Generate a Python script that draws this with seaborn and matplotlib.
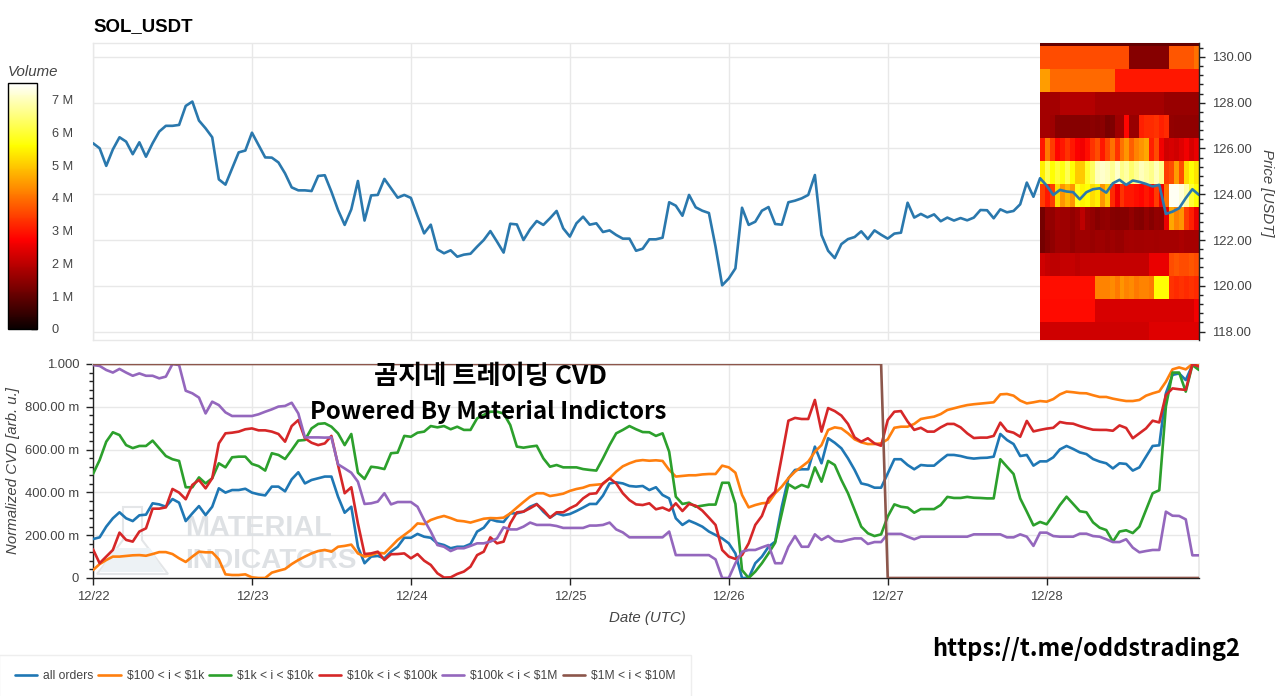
import numpy as np
import pandas as pd
import matplotlib
matplotlib.use("Agg")
import matplotlib.pyplot as plt
from matplotlib.ticker import MultipleLocator, FuncFormatter
from matplotlib.patches import Polygon
import seaborn as sns

W, H = 1280, 696

symbol = "SOL_USDT"
series_names = ["all orders", "$100 < i < $1k", "$1k < i < $10k", "$10k < i < $100k", "$100k < i < $1M", "$1M < i < $10M"]
series_colors = ["#1f77b4", "#ff7f0e", "#2ca02c", "#d62728", "#9467bd", "#8c564b"]
date_labels = ["12/22", "12/23", "12/24", "12/25", "12/26", "12/27", "12/28"]
price_ticks = [118, 120, 122, 124, 126, 128, 130]
price_labels = ["118.00", "120.00", "122.00", "124.00", "126.00", "128.00", "130.00"]
cvd_ticks = [0, 0.2, 0.4, 0.6, 0.8, 1.0]
cvd_labels = ["0", "200.00 m", "400.00 m", "600.00 m", "800.00 m", "1.000"]

price = [
 126.23,126.01,125.24,125.96,126.49,126.30,125.75,126.27,125.64,126.23,126.74,126.99,126.99,127.03,127.86,128.05,127.22,126.88,126.49,124.65,124.42,125.13,125.83,125.91,
 126.69,126.15,125.61,125.60,125.39,124.91,124.30,124.17,124.17,124.14,124.80,124.83,124.11,123.31,122.66,123.34,124.58,122.85,123.95,123.97,124.67,124.26,123.85,123.97,
 123.84,123.05,122.29,122.67,121.59,121.42,121.55,121.27,121.36,121.40,121.71,122.00,122.39,121.93,121.45,122.71,122.68,122.00,122.47,122.83,122.66,122.95,123.27,122.51,
 122.15,122.73,123.02,122.67,122.73,122.35,122.42,122.22,122.06,122.06,121.53,121.62,122.03,122.03,122.10,123.65,123.50,123.06,123.97,123.43,123.28,123.18,121.71,120.02,
 120.32,120.76,123.41,122.66,122.80,123.28,123.44,122.70,122.67,123.65,123.72,123.82,123.97,124.84,122.22,121.53,121.21,121.82,122.04,122.13,122.38,122.04,122.42,122.23,
 122.06,122.28,122.32,123.63,122.98,123.14,122.99,123.12,122.82,122.98,122.85,122.96,122.86,122.98,123.31,123.30,122.95,123.34,123.21,123.27,123.56,124.51,123.89,124.70,
 124.38,123.97,124.19,124.12,124.09,123.78,124.09,124.22,124.26,124.07,124.48,124.63,124.41,124.60,124.54,124.45,124.34,124.41,123.14,123.24,123.39,123.83,124.22,123.97]

cvd_all = [
 182,190,240,279,307,279,266,293,296,349,344,333,369,352,266,302,336,294,333,419,399,411,411,417,399,391,386,427,427,405,461,494,442,458,466,474,474,380,305,333,146,69,100,103,92,123,146,188,188,206,
 193,188,162,154,139,146,146,159,217,235,274,265,262,302,302,310,333,346,310,282,302,293,299,313,329,346,346,385,442,447,442,430,427,430,411,424,388,372,279,248,268,255,240,217,201,185,162,115,0,0,69,100,146,170,333,466,505,508,508,614,536,653,632,606,
 559,505,442,435,422,422,489,555,555,528,508,528,525,525,551,575,575,570,562,558,561,562,567,673,645,626,570,575,525,545,545,564,601,617,603,587,579,556,544,536,512,536,533,502,517,567,617,620,863,949,956,925,995,988]
cvd_100 = [
 37,65,84,100,100,103,106,107,104,112,121,121,112,92,75,100,123,120,120,87,17,14,14,17,3,0,0,25,34,42,65,84,100,115,126,131,123,146,150,156,115,100,107,118,115,146,178,201,224,255,
 252,271,282,290,280,268,265,259,268,277,280,279,282,302,329,355,380,396,396,383,388,394,407,416,422,433,436,439,466,497,522,536,547,551,548,550,547,505,474,477,480,480,484,486,486,525,517,492,388,330,341,349,352,396,427,466,497,520,544,590,621,692,704,699,
 676,648,634,626,626,629,648,702,707,707,720,743,749,754,766,785,793,801,808,812,815,818,821,858,860,852,829,816,821,827,824,836,858,871,868,864,863,854,846,846,838,832,827,827,832,852,863,872,917,975,984,975,1000,995]
cvd_1k = [
 486,551,637,681,668,621,607,617,617,642,606,570,555,547,424,424,470,442,466,536,517,564,567,567,533,523,502,583,575,556,598,642,645,699,720,723,707,676,621,673,492,463,520,516,509,583,586,664,660,679,
 684,710,704,710,695,707,692,692,746,762,777,777,769,715,614,609,614,618,559,520,528,517,517,517,509,505,502,559,621,676,692,710,695,682,681,664,676,590,380,346,352,333,338,343,343,445,445,346,37,0,30,69,115,165,302,438,419,435,424,517,450,547,528,458,
 396,318,240,209,196,204,287,344,333,329,305,322,322,322,341,379,374,374,379,375,374,372,372,555,520,486,372,310,246,262,251,294,341,380,346,312,307,260,235,224,170,217,223,210,240,318,396,410,801,960,960,871,995,972]
cvd_10k = [
 134,69,100,131,212,178,170,217,232,324,324,330,416,399,368,435,458,419,466,629,676,679,684,695,699,690,690,684,673,637,710,738,653,632,621,629,664,528,396,424,255,112,115,123,84,111,112,115,92,112,
 81,61,22,2,3,19,30,53,107,123,190,162,170,255,307,310,326,344,318,282,307,307,326,341,372,393,396,442,466,442,396,364,344,341,349,321,329,315,349,313,346,338,315,282,248,131,100,89,107,162,248,290,372,403,567,735,748,743,743,832,684,794,780,759,
 720,657,637,653,629,618,738,777,780,731,692,702,684,684,704,720,720,704,676,654,656,656,664,726,687,679,660,734,685,692,698,702,729,723,721,710,701,693,692,692,688,713,701,653,676,699,735,727,855,886,882,879,1000,988]
cvd_100k = [
 995,991,972,960,977,960,945,956,945,945,933,941,1000,995,875,863,843,769,824,808,774,757,757,757,757,765,777,788,801,804,819,769,657,657,657,656,657,531,512,492,450,346,349,357,396,344,355,355,355,333,
 271,217,154,146,126,139,139,150,162,162,170,185,237,227,227,240,259,248,248,248,243,234,234,234,234,245,245,248,259,227,213,190,190,190,190,190,190,217,107,107,107,107,107,107,87,0,0,69,123,131,131,143,154,69,69,146,196,146,146,204,178,196,173,170,
 178,185,185,159,168,168,206,206,206,193,181,193,193,193,193,193,193,193,193,204,204,204,204,204,190,190,204,193,150,212,212,196,193,193,193,207,207,196,193,181,168,168,181,142,120,126,131,131,310,291,290,274,106,106]
cvd_1m = [1000] * 120 + [0] * 48

heat_row_130p = [1.0] * 32
heat_row_130 = [3.6]*18 + [1.4]*8 + [3.7]*5 + [4.0]
heat_row_129 = [4.5]*2 + [3.9]*13 + [3.0]*17
heat_row_128 = [1.7]*4 + [1.9]*7 + [1.75]*14 + [1.6]*7
heat_row_127 = [1.7,1.7,1.65,1.4,1.4,1.4,1.4,1.4,1.4,1.4,1.45,1.4,1.45,1.25,1.3,1.65,1.65,2.8,1.6,1.6,3.1,3.2,3.2,3.3,3.1,3.2,1.55,1.5,1.5,1.5,1.5,1.5]
heat_row_126 = [3.0,4.1,3.4,2.8,3.0,3.3,3.0,2.7,2.6,2.9,3.3,3.6,3.0,3.5,4.0,3.3,4.0,4.4,3.8,4.2,4.4,4.6,3.1,3.6,2.6,2.2,2.3,2.2,2.4,2.6,2.3,2.5]
heat_row_125 = [5.4,6.2,5.6,6.0,5.7,6.2,5.6,5.0,5.0,5.9,6.3,7.0,7.1,7.0,6.7,7.1,6.6,6.8,6.4,6.7,7.0,6.8,6.6,7.0,6.6,3.4,3.6,4.5,3.6,5.2,5.6,5.3]
heat_row_124 = [3.4,3.0,3.4,5.2,4.4,4.8,4.4,5.8,5.5,5.6,5.2,5.4,4.4,5.0,3.2,2.6,3.3,3.0,3.0,2.9,2.8,3.0,2.8,3.4,2.6,4.0,7.4,7.4,7.2,6.8,6.0,5.6]
heat_row_123 = [1.2,1.55,1.55,1.7,1.65,1.65,1.55,1.65,2.0,1.65,1.55,1.4,1.5,1.55,1.4,1.35,1.4,1.4,1.55,1.4,1.35,1.55,1.4,1.55,1.5,2.5,4.6,4.2,4.4,3.4,3.1,2.5]
heat_row_122 = [1.2,1.35,1.5,1.65,1.65,1.65,1.55,1.65,1.65,1.65,1.6,1.65,1.65,1.6,1.65,1.6,1.6,1.7,1.75,1.7,1.7,1.75,1.75,1.7,1.75,1.75,1.75,1.75,1.8,1.75,1.75,1.75]
heat_row_121 = [2.2,2.1,2.0,2.0,2.1,2.1,2.1,2.0,2.1,2.1,2.1,2.1,2.1,2.1,2.1,2.1,2.1,2.1,2.1,2.1,2.1,2.1,2.5,2.5,2.5,2.5,3.6,3.7,3.6,3.6,3.7,3.6]
heat_row_120 = [2.9,2.9,2.9,2.9,2.9,2.9,2.9,2.9,2.9,2.9,2.9,4.2,4.2,4.2,4.3,4.1,4.4,4.2,4.3,4.1,4.2,4.2,4.1,5.6,5.6,5.6,3.3,3.2,3.3,3.2,3.3,3.2]
heat_row_119 = [2.85]*11 + [2.3]*20 + [2.6]
heat_row_118 = [2.2]*22 + [2.4]*10

times = pd.date_range("2025-12-22 00:00", periods=168, freq="h")
day_ticks = pd.date_range("2025-12-22", periods=7, freq="D")
price_df = pd.DataFrame({"time": times, "price": price})
cvd_df = pd.DataFrame({"time": times, series_names[0]: cvd_all, series_names[1]: cvd_100, series_names[2]: cvd_1k,
                       series_names[3]: cvd_10k, series_names[4]: cvd_100k, series_names[5]: cvd_1m})
cvd_long = cvd_df.melt("time", var_name="size", value_name="cvd")
cvd_long["cvd"] = cvd_long["cvd"] / 1000
heat_df = pd.DataFrame([heat_row_130p, heat_row_130, heat_row_129, heat_row_128, heat_row_127, heat_row_126, heat_row_125,
                        heat_row_124, heat_row_123, heat_row_122, heat_row_121, heat_row_120, heat_row_119, heat_row_118])

sns.set_theme(style="white")
plt.rcParams["font.family"] = ["Liberation Sans", "DejaVu Sans"]
GRAY = "#444444"
GRID = "#e8e8e8"

def rect(x0, y0, x1, y1):
    return [x0 / W, 1 - y1 / H, (x1 - x0) / W, (y1 - y0) / H]

def fx(x):
    return x / W

def fy(y):
    return 1 - y / H

fig = plt.figure(figsize=(W / 100, H / 100), dpi=100, facecolor="white")
xlim = (times[0], times[-1])
ylim_price = (117.63, 130.61)

# grid layer of the price panel
ax_grid = fig.add_axes(rect(93, 43, 1199, 340), zorder=1)
ax_grid.set_xlim(xlim)
ax_grid.set_ylim(ylim_price)
ax_grid.set_xticks(day_ticks)
ax_grid.set_yticks(price_ticks)
ax_grid.grid(True, color=GRID, lw=1.0)
ax_grid.tick_params(length=0, labelbottom=False, labelleft=False)
for s in ax_grid.spines.values():
    s.set_color(GRID)
    s.set_linewidth(1.0)

# order-book volume heatmap with colour bar
ax_heat = fig.add_axes(rect(1040, 43, 1199, 340), zorder=2)
cax = fig.add_axes(rect(7.5, 83, 37, 329), zorder=2)
sns.heatmap(heat_df, ax=ax_heat, cmap="hot", vmin=0, vmax=7.5, cbar_ax=cax, xticklabels=False, yticklabels=False)
ax_heat.set_xlabel("")
ax_heat.set_ylabel("")
ax_heat.set_ylim(13.77, 0.85)
cb = ax_heat.collections[0].colorbar
cb.set_ticks(range(0, 8))
cb.set_ticklabels(["0", "1 M", "2 M", "3 M", "4 M", "5 M", "6 M", "7 M"])
cax.tick_params(direction="in", length=4.5, width=1, color="black", labelsize=9.2, labelcolor=GRAY, pad=10.5, right=True)
cb.outline.set_edgecolor("black")
cb.outline.set_linewidth(1.0)
cb.outline.set_visible(True)

# price line and axis
ax_p = fig.add_axes(rect(93, 43, 1199, 340), zorder=3)
ax_p.patch.set_alpha(0)
sns.lineplot(data=price_df, x="time", y="price", color="#2a78ad", lw=1.9, ax=ax_p, estimator=None)
ax_p.set_xlim(xlim)
ax_p.set_ylim(ylim_price)
ax_p.set_xticks([])
ax_p.set_xlabel("")
ax_p.yaxis.tick_right()
ax_p.yaxis.set_label_position("right")
ax_p.set_yticks(price_ticks, labels=price_labels)
ax_p.yaxis.set_minor_locator(MultipleLocator(0.4))
ax_p.tick_params(axis="y", which="major", length=4.5, width=1, color="#222222", labelsize=9.4, labelcolor=GRAY, pad=5, right=True, direction="out")
ax_p.tick_params(axis="y", which="minor", length=2.6, width=1, color="#222222", right=True, direction="out")
ax_p.set_ylabel("")
for k, s in ax_p.spines.items():
    s.set_visible(k == "right")
ax_p.spines["right"].set_color("#222222")
ax_p.spines["right"].set_linewidth(1.0)

# CVD panel
ax_c = fig.add_axes(rect(93, 364, 1199, 578), zorder=1)
ax_c.set_xlim(xlim)
ax_c.set_ylim(0, 1)
ax_c.grid(True, color=GRID, lw=1.0)
ax_c.set_axisbelow(True)

# watermark
fig_tr = fig.transFigure
flask_out = [(123, 507), (142, 507), (142, 540), (168, 574), (97, 574), (123, 540)]
flask_liq = [(114, 548), (150, 548), (164, 572), (100, 572)]
ax_c.add_patch(Polygon([(fx(a), fy(b)) for a, b in flask_out], closed=True, transform=fig_tr, fc="none", ec="#e4e6e8", lw=1.5, zorder=1))
ax_c.add_patch(Polygon([(fx(a), fy(b)) for a, b in flask_liq], closed=True, transform=fig_tr, fc="#edf2f5", ec="none", zorder=1))
ax_c.text(fx(185), fy(528), "MATERIAL", transform=fig_tr, ha="left", va="center", fontsize=20.8, fontweight="bold", color="#dee1e4", zorder=1)
ax_c.text(fx(185), fy(561), "INDICATORS", transform=fig_tr, ha="left", va="center", fontsize=20.2, fontweight="bold", color="#dee1e4", zorder=1)

sns.lineplot(data=cvd_long, x="time", y="cvd", hue="size", hue_order=series_names, palette=series_colors,
             lw=1.9, ax=ax_c, estimator=None, legend=False, zorder=3)
ax_c.set_xlim(xlim)
ax_c.set_ylim(0, 1)
ax_c.set_xlabel("")
ax_c.set_ylabel("")
ax_c.set_xticks(day_ticks, labels=date_labels)
ax_c.set_yticks(cvd_ticks, labels=cvd_labels)
ax_c.yaxis.set_minor_locator(MultipleLocator(0.04))
ax_c.tick_params(axis="x", which="major", length=5, width=1, color="#222222", labelsize=9.4, labelcolor=GRAY, pad=4, bottom=True, direction="out")
ax_c.tick_params(axis="y", which="major", length=5, width=1, color="#222222", labelsize=9.4, labelcolor=GRAY, pad=5, left=True, direction="out")
ax_c.tick_params(axis="y", which="minor", length=2.6, width=1, color="#222222", left=True, direction="out")
for k in ("top", "right"):
    ax_c.spines[k].set_color(GRID)
for k in ("left", "bottom"):
    ax_c.spines[k].set_color("#222222")
    ax_c.spines[k].set_linewidth(1.0)

# texts
fig.text(fx(93), fy(27), symbol, ha="left", va="center", fontsize=13.4, fontweight="bold", color="black")
fig.text(fx(8), fy(72), "Volume", ha="left", va="center", fontsize=10.8, style="italic", color=GRAY)
fig.text(fx(1267), fy(193), "Price [USDT]", ha="center", va="center", rotation=-90, fontsize=10.8, style="italic", color=GRAY)
fig.text(fx(13.5), fy(471), "Normalized CVD [arb. u.]", ha="center", va="center", rotation=90, fontsize=10.8, style="italic", color=GRAY)
fig.text(fx(647), fy(618), "Date (UTC)", ha="center", va="center", fontsize=10.8, style="italic", color=GRAY)

cjk = ["Noto Sans CJK KR", "DejaVu Sans"]
fig.text(fx(490.5), fy(377), "곰지네 트레이딩 CVD", ha="center", va="center", fontsize=18.9, fontweight="bold", family=cjk, color="black", zorder=10)
fig.text(fx(488), fy(412), "Powered By Material Indictors", ha="center", va="center", fontsize=17.3, fontweight="bold", family=cjk, color="black", zorder=10)
fig.text(fx(1086.5), fy(649), "https://t.me/oddstrading2", ha="center", va="center", fontsize=17, fontweight="bold", family=cjk, color="black", zorder=10)

# legend
handles = ax_c.get_lines()[:len(series_names)]
legend_labels = [n.replace("$", r"\$") for n in series_names]
leg = fig.legend(handles, legend_labels, loc="lower left", bbox_to_anchor=(fx(-1), fy(698)), bbox_transform=fig.transFigure,
                 ncol=6, frameon=True, fontsize=8.7, labelcolor=GRAY, handlelength=1.85, handletextpad=0.5, columnspacing=0.4,
                 borderpad=1.3, borderaxespad=0, fancybox=False, edgecolor="#eeeeee", facecolor="white", framealpha=1)
leg.get_frame().set_linewidth(1.0)

fig.savefig("out.png", dpi=100, facecolor="white")
